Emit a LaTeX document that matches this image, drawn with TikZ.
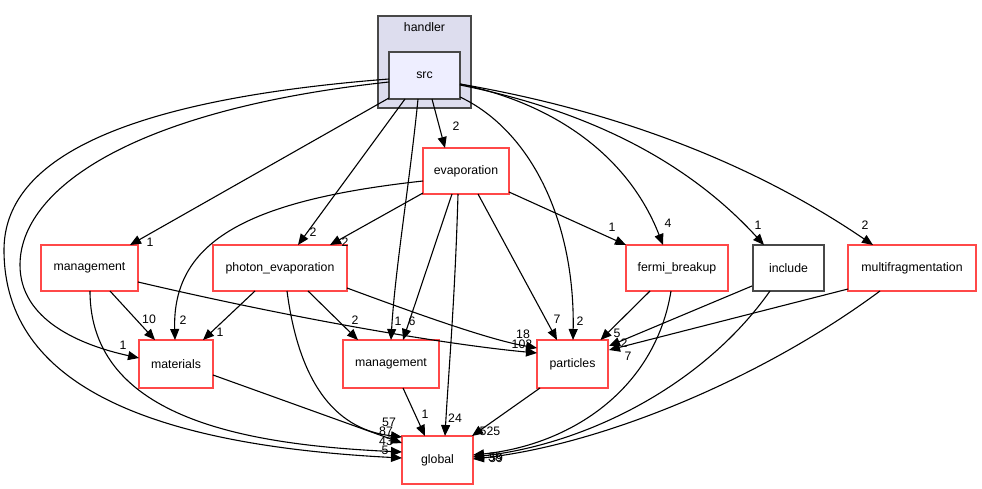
\documentclass[tikz,border=0pt]{standalone}
\usepackage{fontspec}
\setmainfont{Liberation Sans}
\usetikzlibrary{arrows.meta}
\definecolor{boxred}{RGB}{255,72,72}
\definecolor{boxgray}{RGB}{72,72,72}
\definecolor{clusterfill}{RGB}{221,221,238}
\definecolor{srcfill}{RGB}{238,238,255}
\begin{document}
\begin{tikzpicture}[x=1pt,y=-1pt,
  font=\fontsize{12.3}{14}\selectfont,
  dirbox/.style={draw=boxred, line width=1.4pt, fill=white, inner sep=0pt, minimum height=46pt},
  graybox/.style={draw=boxgray, line width=1.4pt, fill=white, inner sep=0pt, minimum height=46pt},
  conn/.style={draw=black, line width=1.1pt, -{Triangle[length=11pt,width=9pt]}},
  lab/.style={inner sep=0pt, font=\fontsize{12.3}{14}\selectfont}]
\useasboundingbox (0,0) rectangle (982,489);
% cluster
\node[draw=boxgray, line width=1.2pt, fill=clusterfill, minimum width=93pt, minimum height=92pt, inner sep=0pt] (handler) at (424.5,62) {};
\node[lab] (handlerlab) at (424.5,27) {handler};
\node[draw=boxgray, line width=1.4pt, fill=srcfill, minimum width=71pt, minimum height=47pt, inner sep=0pt] (src) at (424.5,75.5) {src};
% nodes
\node[dirbox, minimum width=86pt] (evap) at (466,171) {evaporation};
\node[dirbox, minimum width=97pt] (mgL) at (89.5,268) {management};
\node[dirbox, minimum width=134pt] (photon) at (280,268) {photon\_evaporation};
\node[dirbox, minimum width=102pt] (fermi) at (677,268) {fermi\_breakup};
\node[graybox, minimum width=71pt] (include) at (788.5,268) {include};
\node[dirbox, minimum width=128pt] (multi) at (912,268) {multifragmentation};
\node[dirbox, minimum width=74pt, minimum height=48pt] (materials) at (176,364) {materials};
\node[dirbox, minimum width=96pt, minimum height=48pt] (mg2) at (391,364) {management};
\node[dirbox, minimum width=71pt, minimum height=48pt] (particles) at (572.5,364) {particles};
\node[dirbox, minimum width=71pt, minimum height=48pt] (global) at (437.5,460) {global};
% edges from src
\draw[conn] ([shift={(-35.5,22.5)}]src.center) -- ([shift={(40.5,-23)}]mgL.center);
\draw[conn] ([shift={(-35.5,6.5)}]src.center) .. controls (130,110) and (20,190) .. (20,265) .. controls (20,320) and (80,345) .. ([shift={(-37,-6)}]materials.center);
\draw[conn] ([shift={(-35.5,3.5)}]src.center) .. controls (120,100) and (4,160) .. (4,250) .. controls (4,385) and (150,445) .. ([shift={(-35.5,-2)}]global.center);
\draw[conn] ([shift={(-19.5,23.5)}]src.center) -- ([shift={(18,-23)}]photon.center);
\draw[conn] ([shift={(-6.5,23.5)}]src.center) .. controls (410,180) and (395,270) .. ([shift={(0,-24)}]mg2.center);
\draw[conn] ([shift={(7.5,23.5)}]src.center) -- ([shift={(-21,-23)}]evap.center);
\draw[conn] ([shift={(35.5,21.5)}]src.center) .. controls (530,130) and (575,220) .. ([shift={(0.5,-24)}]particles.center);
\draw[conn] ([shift={(35.5,8.5)}]src.center) .. controls (560,105) and (630,160) .. ([shift={(-14,-23)}]fermi.center);
\draw[conn] ([shift={(35.5,9.5)}]src.center) .. controls (610,115) and (700,175) .. ([shift={(-24.5,-23)}]include.center);
\draw[conn] ([shift={(35.5,8.5)}]src.center) .. controls (640,115) and (770,175) .. ([shift={(-39,-23)}]multi.center);
% edges from evaporation
\draw[conn] ([shift={(-43,10)}]evap.center) .. controls (250,200) and (172,240) .. ([shift={(-1,-24)}]materials.center);
\draw[conn] ([shift={(-43,22)}]evap.center) -- ([shift={(50,-23)}]photon.center);
\draw[conn] ([shift={(-14,23)}]evap.center) -- ([shift={(12,-24)}]mg2.center);
\draw[conn] ([shift={(-8,23)}]evap.center) .. controls (455,300) and (448,380) .. ([shift={(7.5,-24)}]global.center);
\draw[conn] ([shift={(12,23)}]evap.center) -- ([shift={(-15.5,-24)}]particles.center);
\draw[conn] ([shift={(43,21)}]evap.center) -- ([shift={(-51,-23)}]fermi.center);
% edges from management (left)
\draw[conn] ([shift={(20.5,23)}]mgL.center) -- ([shift={(-21,-24)}]materials.center);
\draw[conn] ([shift={(0.5,23)}]mgL.center) .. controls (90,420) and (250,445) .. ([shift={(-35.5,-8)}]global.center);
\draw[conn] ([shift={(48.5,14)}]mgL.center) .. controls (300,320) and (450,345) .. ([shift={(-35.5,-11)}]particles.center);
% edges from photon_evaporation
\draw[conn] ([shift={(-25,23)}]photon.center) -- ([shift={(27,-24)}]materials.center);
\draw[conn] ([shift={(28,23)}]photon.center) -- ([shift={(-33,-24)}]mg2.center);
\draw[conn] ([shift={(7,23)}]photon.center) .. controls (300,390) and (340,430) .. ([shift={(-35.5,-23)}]global.center);
\draw[conn] ([shift={(67,20)}]photon.center) .. controls (420,315) and (490,340) .. ([shift={(-35.5,-16)}]particles.center);
% other edges
\draw[conn] ([shift={(37,11)}]materials.center) -- ([shift={(-35.5,-17)}]global.center);
\draw[conn] ([shift={(12,24)}]mg2.center) -- ([shift={(-12.5,-24)}]global.center);
\draw[conn] ([shift={(-32.5,24)}]particles.center) -- ([shift={(34.5,-24)}]global.center);
\draw[conn] ([shift={(-27,23)}]fermi.center) -- ([shift={(28,-24)}]particles.center);
\draw[conn] ([shift={(-36.5,18)}]include.center) -- ([shift={(36.5,-18)}]particles.center);
\draw[conn] ([shift={(-64,21)}]multi.center) -- ([shift={(36.5,-14)}]particles.center);
\draw[conn] ([shift={(-6,23)}]fermi.center) .. controls (655,390) and (570,445) .. ([shift={(35.5,-5)}]global.center);
\draw[conn] ([shift={(-18.5,23)}]include.center) .. controls (700,390) and (580,445) .. ([shift={(35.5,-3)}]global.center);
\draw[conn] ([shift={(-32,23)}]multi.center) .. controls (760,380) and (600,445) .. ([shift={(35.5,-1)}]global.center);
% labels
\node[lab] (l1) at (150,242) {1};
\node[lab] (l2) at (123,345) {1};
\node[lab] (l3) at (385,450) {5};
\node[lab] (l4) at (313,232) {2};
\node[lab] (l5) at (398,321) {1};
\node[lab] (l6) at (456,126) {2};
\node[lab] (l7) at (580,321) {2};
\node[lab] (l8) at (668,223) {4};
\node[lab] (l9) at (758,225) {1};
\node[lab] (l10) at (865,225) {2};
\node[lab] (l11) at (183,320) {2};
\node[lab] (l12) at (345,242) {2};
\node[lab] (l13) at (412,321) {6};
\node[lab] (l14) at (455,418) {24};
\node[lab] (l15) at (557,319) {7};
\node[lab] (l16) at (612,227) {1};
\node[lab] (l17) at (149,319) {10};
\node[lab] (l18) at (386,441) {43};
\node[lab] (l19) at (522,344) {102};
\node[lab] (l20) at (220,332) {1};
\node[lab] (l21) at (355,320) {2};
\node[lab] (l22) at (389,422) {57};
\node[lab] (l23) at (523,334) {18};
\node[lab] (l24) at (386,431) {87};
\node[lab] (l25) at (425,414) {1};
\node[lab] (l26) at (490,431) {525};
\node[lab] (l27) at (617,333) {5};
\node[lab] (l28) at (624,343) {2};
\node[lab] (l29) at (628,356) {7};
\node[lab] (l30) at (495,457) {38};
\node[lab] (l31) at (496,458) {59};
\end{tikzpicture}
\end{document}
